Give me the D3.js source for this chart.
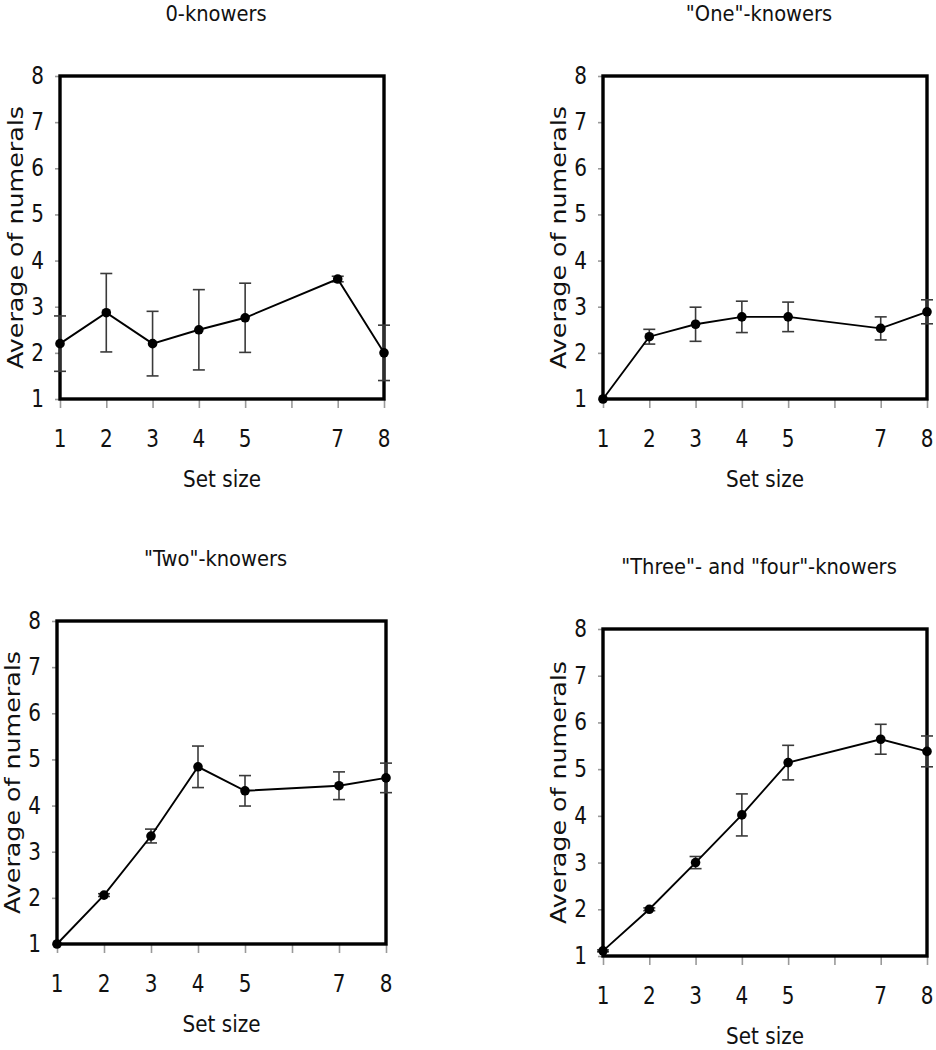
<!DOCTYPE html>
<html>
<head>
<meta charset="utf-8">
<script src="https://cdn.jsdelivr.net/npm/d3@7"></script>
<style>
  html, body { margin: 0; padding: 0; background: #fff; }
  svg { display: block; }
  text { font-family: "DejaVu Sans", Verdana, sans-serif; fill: #111; }
</style>
</head>
<body>
<svg id="chart" width="936" height="1050"></svg>
<script>
// ---- data ----
const setSizes = [1, 2, 3, 4, 5, 7, 8];
const xTickValues = [1, 2, 3, 4, 5, 6, 7, 8];
const xTickLabels = ["1", "2", "3", "4", "5", "", "7", "8"];
const yTickValues = [1, 2, 3, 4, 5, 6, 7, 8];
const yTickLabels = ["1", "2", "3", "4", "5", "6", "7", "8"];

const panelTitles = ["0-knowers", "\"One\"-knowers", "\"Two\"-knowers", "\"Three\"- and \"four\"-knowers"];
const xAxisTitle = "Set size";
const yAxisTitle = "Average of numerals";

const zeroKnowersMean = [2.2, 2.87, 2.2, 2.5, 2.76, 3.6, 2.0];
const zeroKnowersErr  = [0.6, 0.85, 0.7, 0.87, 0.75, 0.06, 0.6];

const oneKnowersMean = [1.0, 2.35, 2.62, 2.78, 2.78, 2.53, 2.89];
const oneKnowersErr  = [0, 0.16, 0.37, 0.34, 0.32, 0.25, 0.26];

const twoKnowersMean = [1.0, 2.06, 3.34, 4.84, 4.32, 4.43, 4.6];
const twoKnowersErr  = [0, 0.03, 0.15, 0.45, 0.33, 0.3, 0.32];

const threeFourKnowersMean = [1.11, 2.0, 3.0, 4.02, 5.14, 5.64, 5.38];
const threeFourKnowersErr  = [0.02, 0.03, 0.13, 0.45, 0.37, 0.32, 0.33];

const seriesMeans = [zeroKnowersMean, oneKnowersMean, twoKnowersMean, threeFourKnowersMean];
const seriesErrs = [zeroKnowersErr, oneKnowersErr, twoKnowersErr, threeFourKnowersErr];

// ---- layout (plot-area boxes) ----
const boxes = [
  { left: 60,  right: 384, top: 76,  bottom: 399 },
  { left: 603, right: 927, top: 76,  bottom: 399 },
  { left: 57,  right: 386, top: 621, bottom: 944 },
  { left: 603, right: 927, top: 629, bottom: 956 }
];

const svg = d3.select("#chart");

function stretchedText(g, x, y, str, size, anchor, sy) {
  return g.append("text")
    .attr("transform", `translate(${x},${y}) scale(1,${sy})`)
    .attr("text-anchor", anchor)
    .attr("font-size", size)
    .text(str);
}

boxes.forEach((b, i) => {
  const g = svg.append("g");
  const x = d3.scaleLinear().domain([1, 8]).range([b.left, b.right]);
  const y = d3.scaleLinear().domain([1, 8]).range([b.bottom, b.top]);
  const cx = (b.left + b.right) / 2;
  const cy = (b.top + b.bottom) / 2;

  // tick marks via d3 axes
  const xa = g.append("g").attr("transform", `translate(0,${b.bottom})`)
    .call(d3.axisBottom(x).tickValues(xTickValues).tickSize(9).tickFormat(""));
  const ya = g.append("g").attr("transform", `translate(${b.left},0)`)
    .call(d3.axisLeft(y).tickValues(yTickValues).tickSize(5).tickFormat(""));
  [xa, ya].forEach(a => {
    a.select(".domain").remove();
    a.selectAll(".tick line").attr("stroke", "#9a9a9a").attr("stroke-width", 1.6);
  });

  // tick labels
  xTickValues.forEach((v, k) => {
    if (xTickLabels[k]) stretchedText(g, x(v), b.bottom + 48, xTickLabels[k], 20, "middle", 1.2);
  });
  yTickValues.forEach((v, k) => {
    stretchedText(g, b.left - 16, y(v) + 8, yTickLabels[k], 20, "end", 1.2);
  });

  // frame
  g.append("rect")
    .attr("x", b.left).attr("y", b.top)
    .attr("width", b.right - b.left).attr("height", b.bottom - b.top)
    .attr("fill", "none").attr("stroke", "#000").attr("stroke-width", 3.4);

  // titles
  stretchedText(g, cx - 6, b.top - 55, panelTitles[i], 19.5, "middle", 1.08);
  stretchedText(g, cx, b.bottom + 88, xAxisTitle, 20, "middle", 1.12);
  g.append("text")
    .attr("transform", `translate(${b.left - 37},${cy}) rotate(-90)`)
    .attr("text-anchor", "middle")
    .attr("font-size", 22)
    .attr("textLength", 263)
    .attr("lengthAdjust", "spacingAndGlyphs")
    .text(yAxisTitle);

  const means = seriesMeans[i];
  const errs = seriesErrs[i];
  const pts = setSizes.map((s, k) => ({ s, m: means[k], e: errs[k] }));

  // error bars
  const eb = g.append("g").attr("stroke", "#3a3a3a").attr("stroke-width", 1.6);
  pts.filter(d => d.e > 0.01).forEach(d => {
    const xx = x(d.s);
    eb.append("line").attr("x1", xx).attr("x2", xx).attr("y1", y(d.m + d.e)).attr("y2", y(d.m - d.e));
    eb.append("line").attr("x1", xx - 6).attr("x2", xx + 6).attr("y1", y(d.m + d.e)).attr("y2", y(d.m + d.e));
    eb.append("line").attr("x1", xx - 6).attr("x2", xx + 6).attr("y1", y(d.m - d.e)).attr("y2", y(d.m - d.e));
  });

  // line
  g.append("path")
    .datum(pts)
    .attr("fill", "none").attr("stroke", "#000").attr("stroke-width", 1.9)
    .attr("d", d3.line().x(d => x(d.s)).y(d => y(d.m)));

  // markers
  g.selectAll("circle.pt").data(pts).join("circle")
    .attr("class", "pt")
    .attr("cx", d => x(d.s)).attr("cy", d => y(d.m)).attr("r", 4.8)
    .attr("fill", "#000");
});
</script>
</body>
</html>
